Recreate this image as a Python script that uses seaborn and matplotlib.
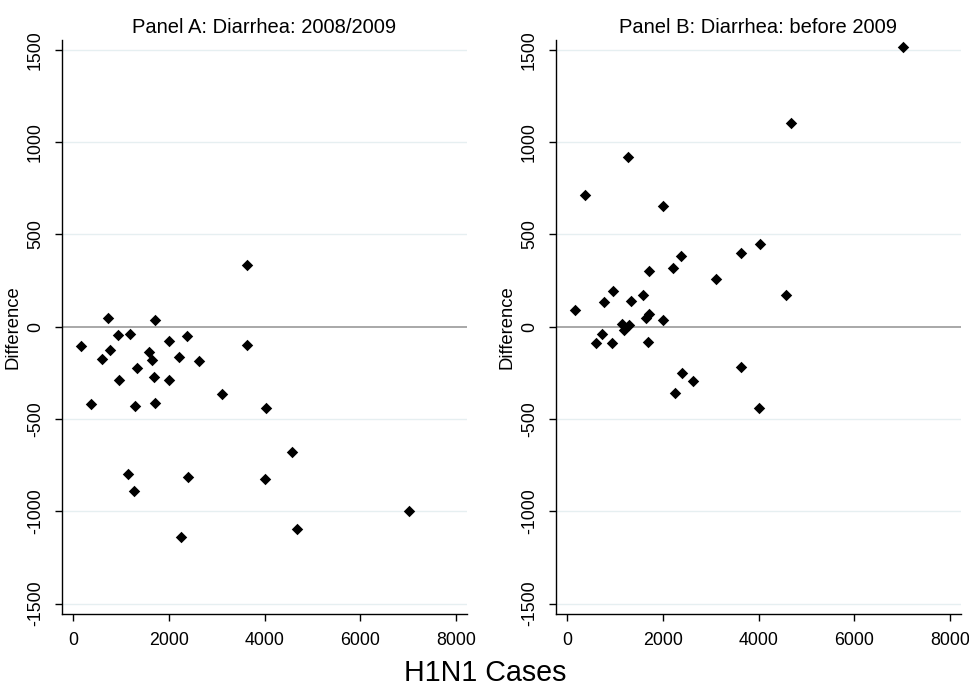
import pandas as pd
import numpy as np
import matplotlib
matplotlib.use("Agg")
import matplotlib.pyplot as plt
import seaborn as sns

# H1N1 cases per city (same cities in both panels)
h1n1_cases = [170, 376, 593, 720, 767, 930, 949, 1143, 1185, 1268, 1289, 1331,
              1582, 1645, 1687, 1714, 1715, 1994, 1995, 2209, 2257, 2370, 2397,
              2633, 3108, 3630, 3630, 4013, 4034, 4577, 4669, 7016]

# Panel A: difference vs diarrhea 2008/2009
diff_2008_2009 = [-106, -420, -173, 45, -125, -45, -290, -800, -38, -892, -431, -224,
                  -137, -180, -272, -413, 35, -76, -290, -162, -1138, -50, -812,
                  -186, -365, -99, 334, -825, -442, -679, -1094, -997]

# Panel B: difference vs diarrhea before 2009
diff_before_2009 = [91, 714, -89, -38, 135, -89, 196, 13, -18, 918, 11, 140,
                    171, 47, -82, 302, 67, 653, 37, 320, -360, 382, -249,
                    -293, 258, 400, -218, -440, 449, 171, 1103, 1517]

titles = ["Panel A: Diarrhea: 2008/2009", "Panel B: Diarrhea: before 2009"]
y_ticks = [-1500, -1000, -500, 0, 500, 1000, 1500]
x_ticks = [0, 2000, 4000, 6000, 8000]

sns.set_style("white")
plt.rcParams['font.family'] = ['Liberation Sans', 'DejaVu Sans']
plt.rcParams['text.color'] = 'black'
plt.rcParams['axes.labelcolor'] = 'black'

fig = plt.figure(figsize=(9.7, 6.97), dpi=100)
ax_a = fig.add_axes([0.0639, 0.1191, 0.4175, 0.8235])
ax_b = fig.add_axes([0.5732, 0.1191, 0.4175, 0.8235])

panels = [(ax_a, diff_2008_2009), (ax_b, diff_before_2009)]

for (ax, diffs), title in zip(panels, titles):
    df = pd.DataFrame({"cases": h1n1_cases, "diff": diffs})

    # light grid lines and the reference line at zero
    for yt in y_ticks:
        if yt != 0:
            ax.axhline(yt, color="#e6eff1", lw=1, zorder=0)
    ax.axhline(0, color="#9a9a9a", lw=1.2, zorder=1)

    sns.scatterplot(data=df, x="cases", y="diff", ax=ax, marker="D",
                    s=34, color="black", linewidth=0, zorder=3)

    ax.set_xlim(-236, 8230)
    ax.set_ylim(-1556, 1553)
    ax.set_xticks(x_ticks)
    ax.set_yticks(y_ticks)
    ax.set_xticklabels([str(t) for t in x_ticks], fontsize=12.8)
    ax.set_yticklabels([str(t) for t in y_ticks], fontsize=12.8,
                       rotation=90, va="center")
    ax.tick_params(axis="both", length=5, width=1, direction="out",
                   pad=8, colors="black", bottom=True, left=True)

    for side in ["top", "right"]:
        ax.spines[side].set_visible(False)
    for side in ["left", "bottom"]:
        ax.spines[side].set_color("black")
        ax.spines[side].set_linewidth(1)

    ax.set_xlabel("")
    ax.set_ylabel("Difference", fontsize=13.3, labelpad=4)
    ax.set_title(title, fontsize=14.5, pad=5)

fig.text(0.5, 0.014, "H1N1 Cases", ha="center", va="bottom", fontsize=20.6)

fig.savefig("out.png", dpi=100)
